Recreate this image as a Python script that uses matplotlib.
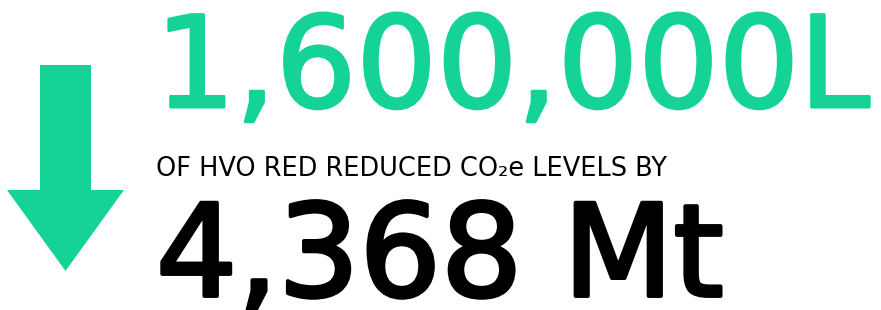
import matplotlib
matplotlib.use("Agg")
import matplotlib.pyplot as plt
import matplotlib.patheffects as pe

# ---- content ----
headline = "1,600,000L"
subtitle = "OF HVO RED REDUCED CO\u2082e LEVELS BY"
value_text = "4,368 Mt"

GREEN = "#15D396"
BLACK = "#000000"

W, H, DPI = 881, 310, 100
fig = plt.figure(figsize=(W / DPI, H / DPI), dpi=DPI)
ax = fig.add_axes([0, 0, 1, 1])
ax.set_xlim(0, W)
ax.set_ylim(H, 0)
ax.axis("off")

# arrow (shaft + head)
shaft_l, shaft_r, shaft_top, head_y = 40, 91, 65, 190
head_l, head_r, tip_y = 7, 124, 271
tip_x = (head_l + head_r) / 2
ax.fill([shaft_l, shaft_r, shaft_r, head_r, tip_x, head_l, shaft_l, shaft_l],
        [shaft_top, shaft_top, head_y, head_y, tip_y, head_y, head_y, shaft_top],
        color=GREEN, lw=0)

fam = ["DejaVu Sans"]
t1 = ax.text(155, 107, headline, color=GREEN, fontsize=90, family=fam,
             weight="normal", va="baseline", ha="left",
             path_effects=[pe.withStroke(linewidth=2.2, foreground=GREEN)])
t2 = ax.text(156, 176, subtitle, color=BLACK, fontsize=15, family=fam,
             weight="normal", va="baseline", ha="left")
t3 = ax.text(156, 296, value_text, color=BLACK, fontsize=88, family=fam,
             weight="normal", va="baseline", ha="left",
             path_effects=[pe.withStroke(linewidth=2.8, foreground=BLACK)])

targets = [(t1, 870 - 155), (t2, 667 - 156), (t3, 723 - 156)]
for _ in range(3):
    fig.canvas.draw()
    r = fig.canvas.get_renderer()
    for t, tw in targets:
        bb = t.get_window_extent(r)
        t.set_fontsize(t.get_fontsize() * tw / bb.width)

fig.savefig("out.png", dpi=DPI, facecolor="white")
